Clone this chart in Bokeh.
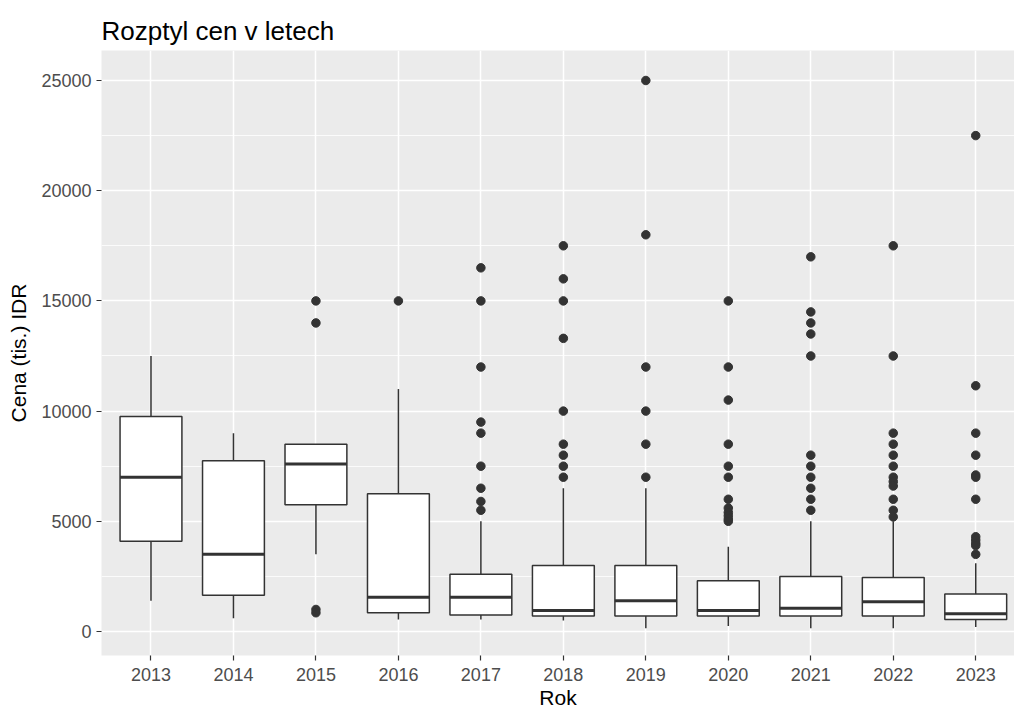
from bokeh.plotting import figure
from bokeh.models import Range1d, FixedTicker, NumeralTickFormatter, ColumnDataSource
from bokeh.transform import dodge
from bokeh.embed import file_html
from bokeh.resources import INLINE

years = ["2013", "2014", "2015", "2016", "2017", "2018", "2019", "2020", "2021", "2022", "2023"]
whisker_low = [1400, 600, 3500, 550, 550, 500, 150, 250, 150, 150, 200]
q1 = [4100, 1650, 5750, 850, 750, 700, 700, 700, 700, 700, 550]
median = [7000, 3500, 7600, 1550, 1550, 950, 1400, 950, 1050, 1350, 800]
q3 = [9750, 7750, 8500, 6250, 2600, 3000, 3000, 2300, 2500, 2450, 1700]
whisker_high = [12500, 9000, 8500, 11000, 5000, 6500, 6500, 3850, 5000, 5000, 3100]

outlier_years = (["2015"] * 4 + ["2016"] * 1 + ["2017"] * 9 + ["2018"] * 9 + ["2019"] * 6
                 + ["2020"] * 12 + ["2021"] * 11 + ["2022"] * 12 + ["2023"] * 12)
outlier_values = ([15000, 14000, 1000, 850]
                  + [15000]
                  + [16500, 15000, 12000, 9500, 9000, 7500, 6500, 5900, 5500]
                  + [17500, 16000, 15000, 13300, 10000, 8500, 8000, 7500, 7000]
                  + [25000, 18000, 12000, 10000, 8500, 7000]
                  + [15000, 12000, 10500, 8500, 7500, 7000, 6000, 5600, 5400, 5250, 5100, 5000]
                  + [17000, 14500, 14000, 13500, 12500, 8000, 7500, 7000, 6500, 6000, 5500]
                  + [17500, 12500, 9000, 8500, 8000, 7500, 7000, 6800, 6600, 6000, 5500, 5200]
                  + [22500, 11150, 9000, 8000, 7100, 7000, 6000, 4300, 4150, 4000, 3900, 3500])

y_major = [0, 5000, 10000, 15000, 20000, 25000]
y_minor = [2500, 7500, 12500, 17500, 22500]

FONT = "Liberation Sans"
DARK = "#333333"

xs = list(range(len(years)))
src = ColumnDataSource(dict(x=xs, wl=whisker_low, q1=q1, med=median, q3=q3, wh=whisker_high))
out_src = ColumnDataSource(dict(x=[years.index(y) for y in outlier_years], y=outlier_values))

p = figure(width=1014, height=711,
           x_range=Range1d(-0.6, 10.47), y_range=Range1d(-1089, 26361),
           output_backend="svg", toolbar_location=None,
           min_border_left=101, min_border_right=0, min_border_top=50, min_border_bottom=56,
           title="Rozptyl cen v letech", x_axis_label="Rok", y_axis_label="Cena (tis.) IDR")

p.background_fill_color = "#EBEBEB"
p.border_fill_color = "white"
p.outline_line_color = None

p.title.text_font = FONT
p.title.text_font_size = "26px"
p.title.text_font_style = "normal"
p.title.text_color = "black"
p.title.align = "left"

for ax in (p.xaxis[0], p.yaxis[0]):
    ax.axis_line_color = None
    ax.major_tick_in = 0
    ax.major_tick_out = 5
    ax.major_tick_line_color = DARK
    ax.major_tick_line_width = 1.2
    ax.minor_tick_line_color = None
    ax.major_label_text_font = FONT
    ax.major_label_text_font_size = "18px"
    ax.major_label_text_color = "#4D4D4D"
    ax.axis_label_text_font = FONT
    ax.axis_label_text_font_size = "21px"
    ax.axis_label_text_font_style = "normal"
    ax.axis_label_text_color = "black"

p.xaxis.ticker = FixedTicker(ticks=xs)
p.xaxis.major_label_overrides = {i: y for i, y in zip(xs, years)}
p.xaxis.major_label_standoff = 7
p.xaxis.axis_label_standoff = 2

p.yaxis.ticker = FixedTicker(ticks=y_major, minor_ticks=y_minor)
p.yaxis.formatter = NumeralTickFormatter(format="0")
p.yaxis.major_label_standoff = 5
p.yaxis.axis_label_standoff = 8

p.xgrid.grid_line_color = "white"
p.xgrid.grid_line_width = 1.5
p.ygrid.grid_line_color = "white"
p.ygrid.grid_line_width = 1.5
p.ygrid.minor_grid_line_color = "white"
p.ygrid.minor_grid_line_width = 0.8

p.segment(x0="x", y0="q3", x1="x", y1="wh", source=src, line_color=DARK, line_width=1.5)
p.segment(x0="x", y0="wl", x1="x", y1="q1", source=src, line_color=DARK, line_width=1.5)
p.vbar(x="x", width=0.75, bottom="q1", top="q3", source=src,
       fill_color="white", line_color=DARK, line_width=1.5)
p.segment(x0=dodge("x", -0.375, range=p.x_range), y0="med",
          x1=dodge("x", 0.375, range=p.x_range), y1="med",
          source=src, line_color=DARK, line_width=3)
p.scatter(x="x", y="y", source=out_src, size=8.5, fill_color=DARK, line_color=DARK)

open("out.html", "w").write(file_html(p, INLINE))
